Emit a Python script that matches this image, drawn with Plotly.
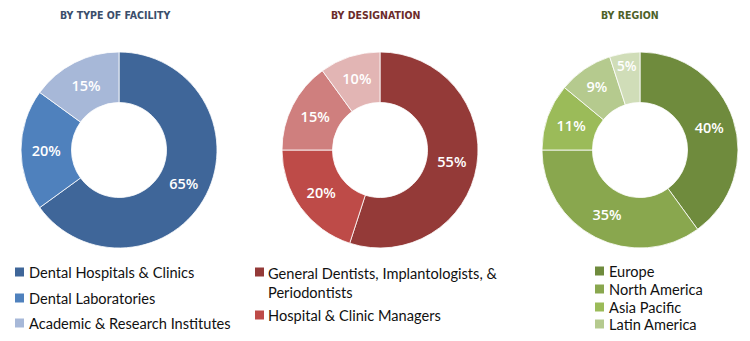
import plotly.graph_objects as go

W, H = 750, 341

facility_labels = ["Dental Hospitals & Clinics", "Dental Laboratories", "Academic & Research Institutes"]
facility_values = [65, 20, 15]
facility_colors = ["#3F6699", "#4F81BD", "#A7B8D8"]

designation_labels = ["General Dentists, Implantologists, &<br>Periodontists", "Hospital & Clinic Managers", "Other 1", "Other 2"]
designation_values = [55, 20, 15, 10]
designation_colors = ["#943A38", "#BE4B48", "#CF7F7E", "#E2B5B4"]
designation_legend_count = 2

region_labels = ["Europe", "North America", "Asia Pacific", "Latin America", "Rest of the World"]
region_values = [40, 35, 11, 9, 5]
region_colors = ["#6F8B3D", "#89A74E", "#9BBB59", "#B5CA8E", "#D0DDB8"]
region_legend_count = 4

titles = ["BY TYPE OF FACILITY", "BY DESIGNATION", "BY REGION"]
title_colors = ["#3B4E6B", "#6B2C2B", "#4E6128"]


def px(x):
    return x / W


def py(y):
    return 1 - y / H


fig = go.Figure()

pies = [
    (facility_labels, facility_values, facility_colors, 119),
    (designation_labels, designation_values, designation_colors, 380),
    (region_labels, region_values, region_colors, 640),
]
cy, r = 150, 98
for labels, values, colors, cx in pies:
    fig.add_trace(go.Pie(
        labels=labels, values=values, sort=False, direction="clockwise", rotation=0,
        hole=0.485,
        marker=dict(colors=colors, line=dict(color="white", width=0.8)),
        texttemplate="%{value}%", textposition="inside", insidetextorientation="horizontal",
        textfont=dict(family="Open Sans", size=14.5, color="white", weight=600),
        domain=dict(x=[px(cx - r), px(cx + r)], y=[py(cy + r), py(cy - r)]),
        showlegend=False, hoverinfo="label+value",
    ))

title_x = [115, 376, 630]
for t, c, x in zip(titles, title_colors, title_x):
    fig.add_annotation(text=t, x=px(x), y=py(15), xref="paper", yref="paper",
                       showarrow=False, xanchor="center", yanchor="middle",
                       font=dict(family="DejaVu Sans Condensed, sans-serif",
                                 size=10.5, color=c, weight="bold"))

legend_font = dict(family="Lato, Open Sans, sans-serif", size=14.6, color="#111111")


def add_legend(labels, colors, mx, tx, ys):
    for lab, col, y in zip(labels, colors, ys):
        fig.add_shape(type="rect", xref="paper", yref="paper",
                      x0=px(mx), x1=px(mx + 9), y0=py(y + 4.5), y1=py(y - 4.5),
                      fillcolor=col, line=dict(width=0))
        fig.add_annotation(text=lab, x=px(tx), y=py(y), xref="paper", yref="paper",
                           showarrow=False, xanchor="left", yanchor="middle" if "<br>" not in lab else "top",
                           yshift=0 if "<br>" not in lab else 9,
                           align="left", font=legend_font)


add_legend(facility_labels, facility_colors, 15, 27, [272, 298, 323])
add_legend(designation_labels[:designation_legend_count], designation_colors, 255, 266, [272, 315])
add_legend(region_labels[:region_legend_count], region_colors, 595, 607, [271, 289, 307, 324])

fig.update_layout(width=W, height=H, margin=dict(l=0, r=0, t=0, b=0),
                  paper_bgcolor="white", plot_bgcolor="white")
fig.write_html("out.html")
